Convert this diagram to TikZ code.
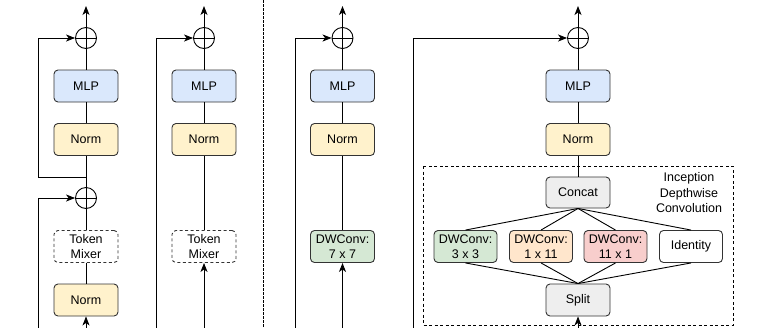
\documentclass[tikz,border=0pt]{standalone}
\usepackage{fontspec}
\setmainfont{Liberation Sans}
\usetikzlibrary{arrows.meta}
\definecolor{strk}{HTML}{333333}
\definecolor{cblue}{HTML}{DAE8FC}
\definecolor{cyellow}{HTML}{FFF2CC}
\definecolor{cgreen}{HTML}{D5E8D4}
\definecolor{corange}{HTML}{FFE6CC}
\definecolor{cred}{HTML}{F8CECC}
\definecolor{cgray}{HTML}{EEEEEE}
\begin{document}
\begin{tikzpicture}[x=1pt,y=-1pt,
  every node/.style={font=\fontsize{12.5}{15.5}\selectfont},
  blk/.style={draw=strk,line width=0.9pt,rounded corners=4pt,minimum width=64pt,minimum height=32pt,inner sep=0pt,align=center},
  mlpbox/.style={blk,fill=cblue},
  normbox/.style={blk,fill=cyellow},
  mixbox/.style={blk,fill=white,dash pattern=on 3pt off 2.5pt},
  greenbox/.style={blk,fill=cgreen},
  orangebox/.style={blk,fill=corange},
  redbox/.style={blk,fill=cred},
  graybox/.style={blk,fill=cgray},
  whitebox/.style={blk,fill=white},
  addnode/.style={draw=black,line width=0.9pt,circle,minimum size=21pt,inner sep=0pt,
    path picture={\draw[line width=0.9pt] (path picture bounding box.north) -- (path picture bounding box.south)
      (path picture bounding box.west) -- (path picture bounding box.east);}},
  conn/.style={draw=black,line width=0.9pt},
  arr/.style={conn,-{Stealth[length=9pt,width=7pt,inset=2.5pt]}}
]
\useasboundingbox (0,0) rectangle (767,327);

% separator
\draw[line width=0.9pt,dash pattern=on 2.5pt off 1.5pt] (263,0) -- (263,327);

% ---------- Column 1 ----------
\node[addnode] (a1) at (86,38) {};
\node[mlpbox] (m1) at (86,86) {MLP};
\node[normbox] (n1) at (86,139.5) {Norm};
\node[addnode] (a1b) at (86,198) {};
\node[mixbox] (t1) at (86,246.5) {Token\\Mixer};
\node[normbox] (nb1) at (86,300) {Norm};
\coordinate (top1) at (86,6);
\coordinate (j1) at (86,177);
\coordinate (r1) at (38,177);
\coordinate (rb1) at (38,330);
\coordinate (bot1) at (86,330);
\draw[arr] (a1) -- (top1);
\draw[conn] (m1) -- (a1);
\draw[conn] (n1) -- (m1);
\draw[conn] (n1) -- (a1b);
\draw[conn] (t1) -- (a1b);
\draw[conn] (nb1) -- (t1);
\draw[arr] (j1) -- (r1) |- (a1);
\draw[arr] (rb1) |- (a1b);
\draw[arr] (bot1) -- (nb1);

% ---------- Column 2 ----------
\node[addnode] (a2) at (204,38) {};
\node[mlpbox] (m2) at (204,86) {MLP};
\node[normbox] (n2) at (204,139.5) {Norm};
\node[mixbox] (t2) at (204,246.5) {Token\\Mixer};
\coordinate (top2) at (204,6);
\coordinate (r2) at (156,330);
\coordinate (bot2) at (204,330);
\draw[arr] (a2) -- (top2);
\draw[conn] (m2) -- (a2);
\draw[conn] (n2) -- (m2);
\draw[conn] (t2) -- (n2);
\draw[arr] (r2) |- (a2);
\draw[arr] (bot2) -- (t2);

% ---------- Column 3 ----------
\node[addnode] (a3) at (342.5,38) {};
\node[mlpbox] (m3) at (342.5,86) {MLP};
\node[normbox] (n3) at (342.5,139.5) {Norm};
\node[greenbox] (d3) at (342.5,246.5) {DWConv:\\7 x 7};
\coordinate (top3) at (342.5,6);
\coordinate (r3) at (295,330);
\coordinate (bot3) at (342.5,330);
\draw[arr] (a3) -- (top3);
\draw[conn] (m3) -- (a3);
\draw[conn] (n3) -- (m3);
\draw[conn] (d3) -- (n3);
\draw[arr] (r3) |- (a3);
\draw[arr] (bot3) -- (d3);

% ---------- Column 4 ----------
\draw[line width=0.9pt,dash pattern=on 3pt off 2.5pt] (423,166) rectangle (733,325);
\node[align=center] (lbl) at (689,193) {Inception\\Depthwise\\Convolution};
\node[addnode] (a4) at (578,38) {};
\node[mlpbox] (m4) at (578,86) {MLP};
\node[normbox] (n4) at (578,139.5) {Norm};
\node[graybox,minimum height=31pt] (cc) at (578,192.5) {Concat};
\node[greenbox,minimum width=63pt] (k1) at (465.5,246.5) {DWConv:\\3 x 3};
\node[orangebox,minimum width=63pt] (k2) at (541,246.5) {DWConv:\\1 x 11};
\node[redbox,minimum width=63pt] (k3) at (615.5,246.5) {DWConv:\\11 x 1};
\node[whitebox,minimum width=63pt] (k4) at (691,246.5) {Identity};
\node[graybox] (sp) at (578,300) {Split};
\coordinate (top4) at (578,6);
\coordinate (r4) at (413,330);
\coordinate (bot4) at (578,330);
\draw[arr] (a4) -- (top4);
\draw[conn] (m4) -- (a4);
\draw[conn] (n4) -- (m4);
\draw[conn] (cc) -- (n4);
\foreach \k in {k1,k2,k3,k4} {
  \draw[conn] (\k.north) -- (cc.south);
  \draw[conn] (\k.south) -- (sp.north);
}
\draw[arr] (r4) |- (a4);
\draw[arr] (bot4) -- (sp);
\end{tikzpicture}
\end{document}
